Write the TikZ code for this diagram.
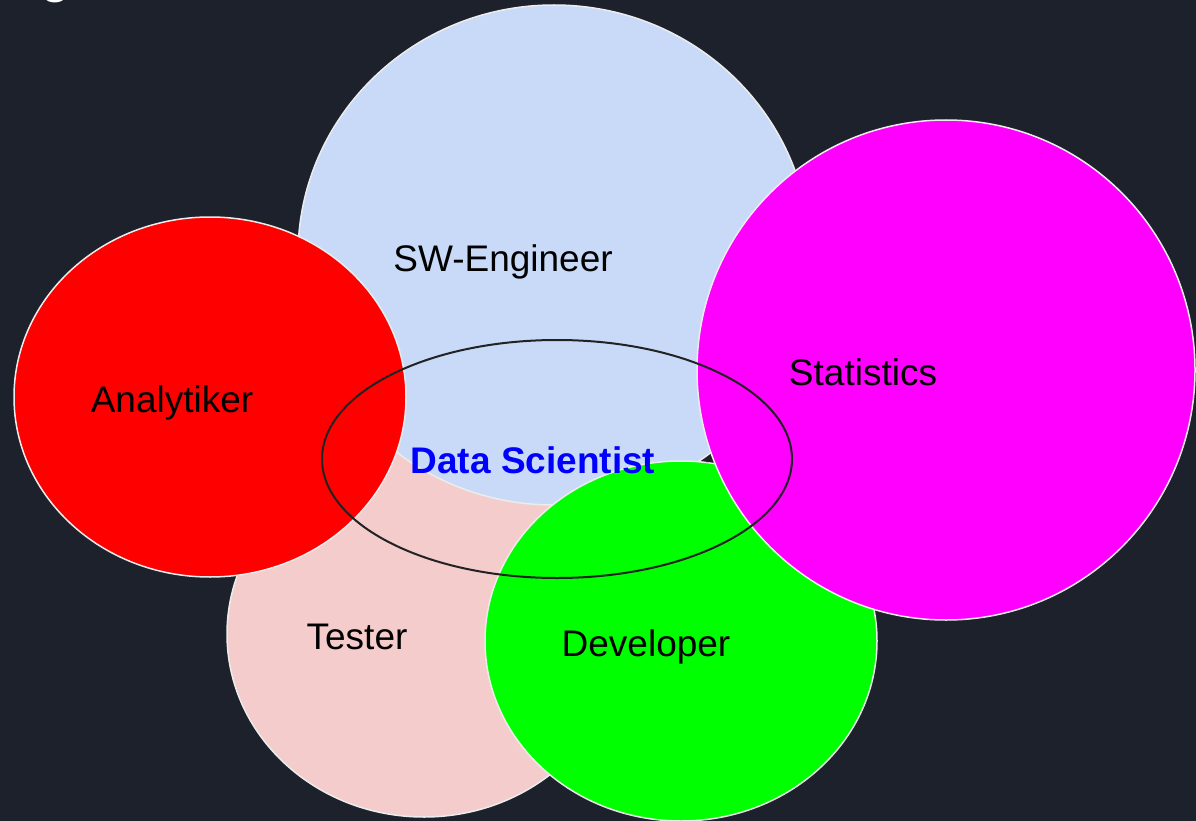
\documentclass[tikz,border=0pt]{standalone}
\usepackage{fontspec}
\setmainfont{Liberation Sans}
\definecolor{bg}{HTML}{1C212C}
\definecolor{swblue}{HTML}{C9DAF8}
\definecolor{testpink}{HTML}{F4CCCC}
\definecolor{statpink}{HTML}{FF00FF}
\definecolor{devgreen}{HTML}{00FF00}
\definecolor{anared}{HTML}{FF0000}
\definecolor{ring}{HTML}{222222}
\tikzset{
  role/.style={fill=#1,draw=gray!15,line width=1.5pt},
  lbl/.style={font=\fontsize{37}{44}\selectfont,inner sep=0pt,anchor=base}
}
\begin{document}
\begin{tikzpicture}[x=1pt,y=-1pt]
\useasboundingbox (0,0) rectangle (1196,821);
\clip (0,0) rectangle (1196,821);
\fill[bg] (0,0) rectangle (1196,821);
\node[white,font=\fontsize{55}{60}\selectfont,inner sep=0pt,anchor=base] (head) at (56,-8) {g};
\draw[role=testpink] (424,634) ellipse [x radius=197pt,y radius=183pt];
\draw[role=swblue] (554,255) ellipse [x radius=256pt,y radius=250pt];
\draw[role=anared] (210,397) ellipse [x radius=196pt,y radius=180pt];
\draw[role=devgreen] (681,641) ellipse [x radius=196pt,y radius=180pt];
\draw[role=statpink] (946,370) ellipse [x radius=249pt,y radius=250pt];
\fill[ring] (706,462) -- (713,462) -- (711,457) -- cycle;
\draw[ring,line width=2pt] (557,459) ellipse [x radius=235pt,y radius=119pt];
\node[lbl] (sw) at (503,271) {SW-Engineer};
\node[lbl] (ana) at (172,412) {Analytiker};
\node[lbl] (stat) at (863,385) {Statistics};
\node[lbl] (test) at (357,649) {Tester};
\node[lbl] (dev) at (646,656) {Developer};
\node[lbl,text=blue,font=\fontsize{37}{44}\selectfont\bfseries] (ds) at (533,473) {Data Scientist};
\end{tikzpicture}
\end{document}
